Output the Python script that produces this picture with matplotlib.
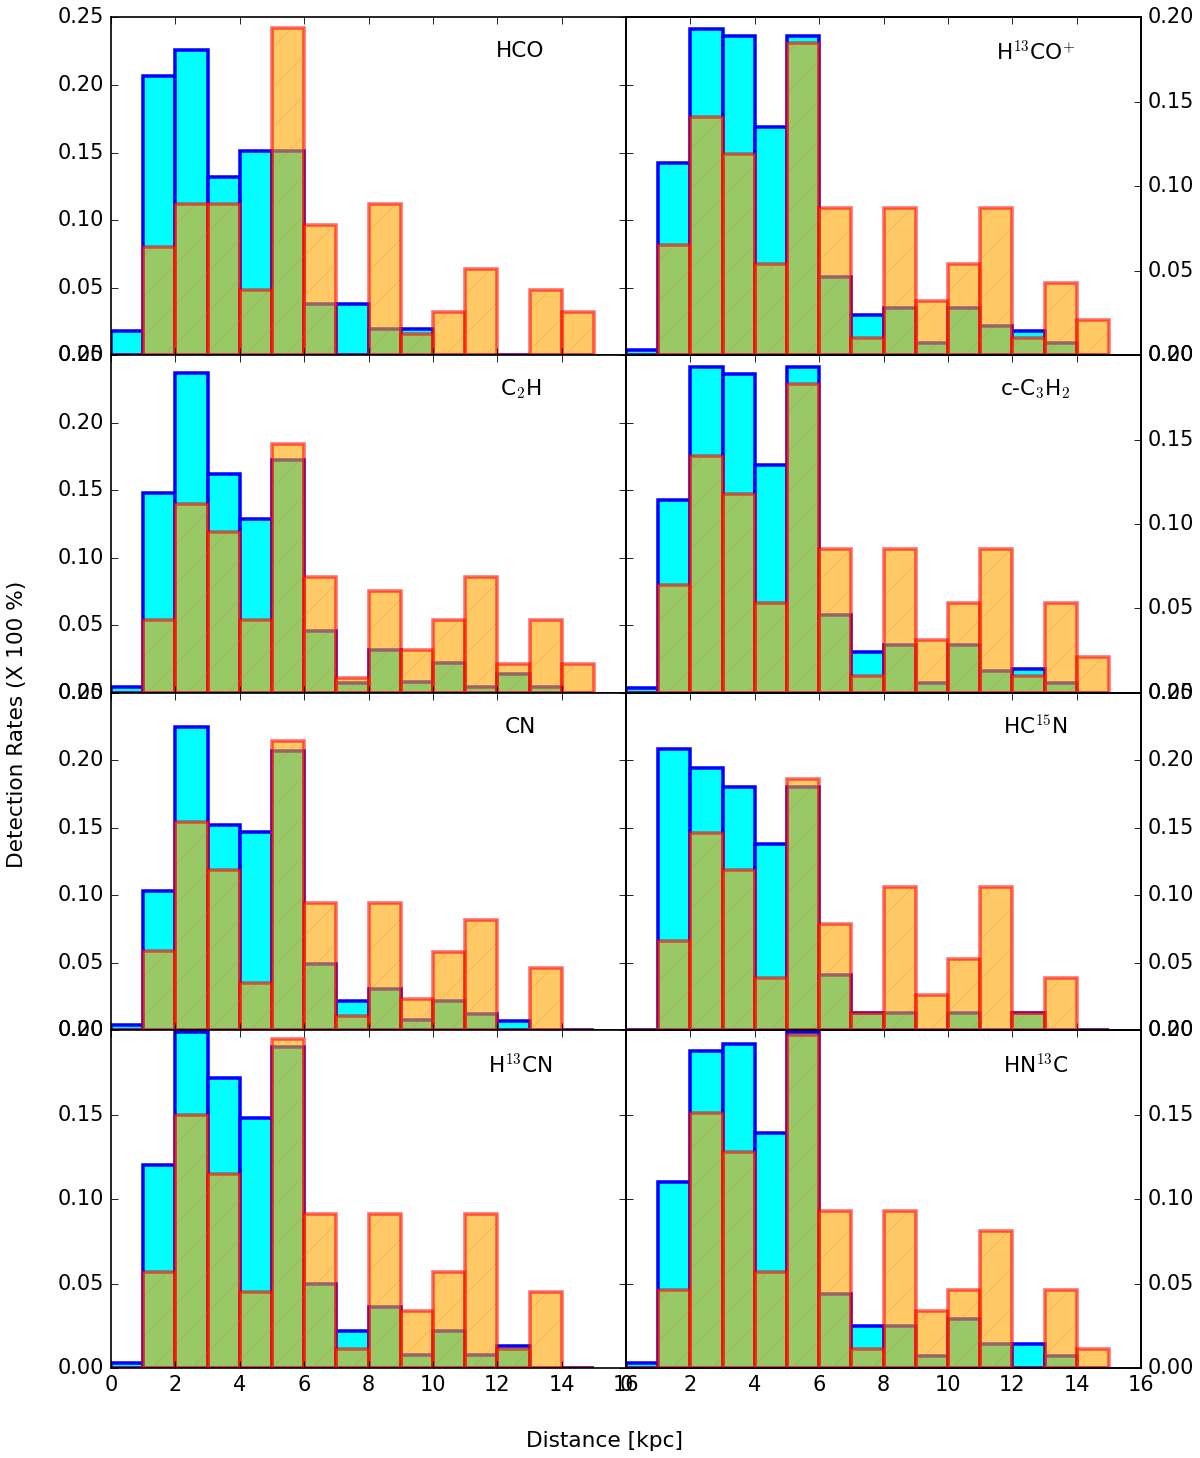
import numpy as np
import matplotlib
matplotlib.use('Agg')
import matplotlib.pyplot as plt

plt.style.use('classic')
plt.rcParams['mathtext.fontset'] = 'cm'
plt.rcParams['xtick.labelsize'] = 12.5
plt.rcParams['ytick.labelsize'] = 12.5

# distance bins [kpc]
bin_edges = np.arange(0, 16, 1)
bin_left = bin_edges[:-1]

names = ['HCO', r'H$^{13}$CO$^{+}$', r'C$_2$H', r'c-C$_3$H$_2$',
         'CN', r'HC$^{15}$N', r'H$^{13}$CN', r'HN$^{13}$C']

# cyan histograms (blue edge)
cyan_hco = [0.018, 0.207, 0.226, 0.132, 0.151, 0.151, 0.038, 0.038, 0.019, 0.019, 0, 0, 0, 0, 0]
cyan_h13cop = [0.003, 0.114, 0.193, 0.189, 0.135, 0.189, 0.046, 0.024, 0.028, 0.007, 0.028, 0.017, 0.014, 0.007, 0]
cyan_c2h = [0.004, 0.148, 0.237, 0.162, 0.129, 0.172, 0.046, 0.0075, 0.032, 0.008, 0.022, 0.004, 0.014, 0.004, 0]
cyan_cc3h2 = [0.003, 0.114, 0.193, 0.189, 0.135, 0.193, 0.046, 0.024, 0.028, 0.006, 0.028, 0.013, 0.014, 0.006, 0]
cyan_cn = [0.004, 0.103, 0.225, 0.152, 0.147, 0.207, 0.049, 0.022, 0.031, 0.008, 0.022, 0.012, 0.007, 0, 0]
cyan_hc15n = [0, 0.208, 0.194, 0.180, 0.138, 0.180, 0.041, 0.013, 0.013, 0, 0.013, 0, 0.013, 0, 0]
cyan_h13cn = [0.003, 0.120, 0.199, 0.172, 0.148, 0.190, 0.050, 0.022, 0.036, 0.008, 0.022, 0.008, 0.013, 0, 0]
cyan_hn13c = [0.003, 0.110, 0.188, 0.192, 0.139, 0.199, 0.044, 0.025, 0.025, 0.007, 0.029, 0.014, 0.014, 0.007, 0]

# orange histograms (red edge)
orange_hco = [0, 0.080, 0.112, 0.112, 0.048, 0.242, 0.096, 0, 0.112, 0.016, 0.032, 0.064, 0, 0.048, 0.032]
orange_h13cop = [0, 0.065, 0.141, 0.119, 0.054, 0.185, 0.087, 0.010, 0.087, 0.032, 0.054, 0.087, 0.010, 0.043, 0.021]
orange_c2h = [0, 0.054, 0.140, 0.119, 0.054, 0.184, 0.086, 0.011, 0.075, 0.032, 0.054, 0.086, 0.021, 0.054, 0.021]
orange_cc3h2 = [0, 0.064, 0.140, 0.118, 0.053, 0.183, 0.085, 0.010, 0.085, 0.031, 0.053, 0.085, 0.010, 0.053, 0.021]
orange_cn = [0, 0.059, 0.154, 0.119, 0.035, 0.214, 0.094, 0.011, 0.094, 0.023, 0.058, 0.082, 0, 0.046, 0]
orange_hc15n = [0, 0.066, 0.146, 0.119, 0.039, 0.186, 0.079, 0.013, 0.106, 0.026, 0.053, 0.106, 0.013, 0.039, 0]
orange_h13cn = [0, 0.057, 0.150, 0.115, 0.045, 0.195, 0.091, 0.011, 0.091, 0.034, 0.057, 0.091, 0.011, 0.045, 0]
orange_hn13c = [0, 0.046, 0.151, 0.128, 0.057, 0.197, 0.093, 0.011, 0.093, 0.034, 0.046, 0.081, 0, 0.046, 0.011]

cyan_all = [cyan_hco, cyan_h13cop, cyan_c2h, cyan_cc3h2, cyan_cn, cyan_hc15n, cyan_h13cn, cyan_hn13c]
orange_all = [orange_hco, orange_h13cop, orange_c2h, orange_cc3h2, orange_cn, orange_hc15n, orange_h13cn, orange_hn13c]
ymax_left = [0.25, 0.25, 0.25, 0.20]
ymax_right = [0.20, 0.20, 0.25, 0.20]

fig, axes = plt.subplots(4, 2, sharex=True, sharey='row', figsize=(10, 12.15), dpi=120)
fig.subplots_adjust(left=0.0925, right=0.951, top=0.988, bottom=0.0617, wspace=0, hspace=0)

for i in range(8):
    row, col = i // 2, i % 2
    ax = axes[row, col]
    ax.set_ylim(0, ymax_left[row])
    if col == 1:
        ax = ax.twinx()
        ax.set_ylim(0, ymax_right[row])
    ax.bar(bin_left, cyan_all[i], width=1, align='edge', color='cyan',
           edgecolor='blue', linewidth=2.1)
    ax.bar(bin_left, orange_all[i], width=1, align='edge', color='orange',
           edgecolor='red', linewidth=2.1, alpha=0.6)
    # faint hatching on the orange bars
    ax.bar(bin_left, orange_all[i], width=1, align='edge', fill=False,
           hatch='/', edgecolor=(0.8, 0.45, 0.25, 0.15), linewidth=0)
    ax.text(0.795, 0.9, names[i], transform=ax.transAxes, ha='center', va='center', fontsize=13)
    ax.set_xlim(0, 16)

fig.text(0.504, 0.012, 'Distance [kpc]', ha='center', va='center', fontsize=13)
fig.text(0.014, 0.503, 'Detection Rates (X 100 %)', ha='center', va='center',
         rotation=90, fontsize=13)

fig.savefig('out.png', dpi=120, facecolor='white')
